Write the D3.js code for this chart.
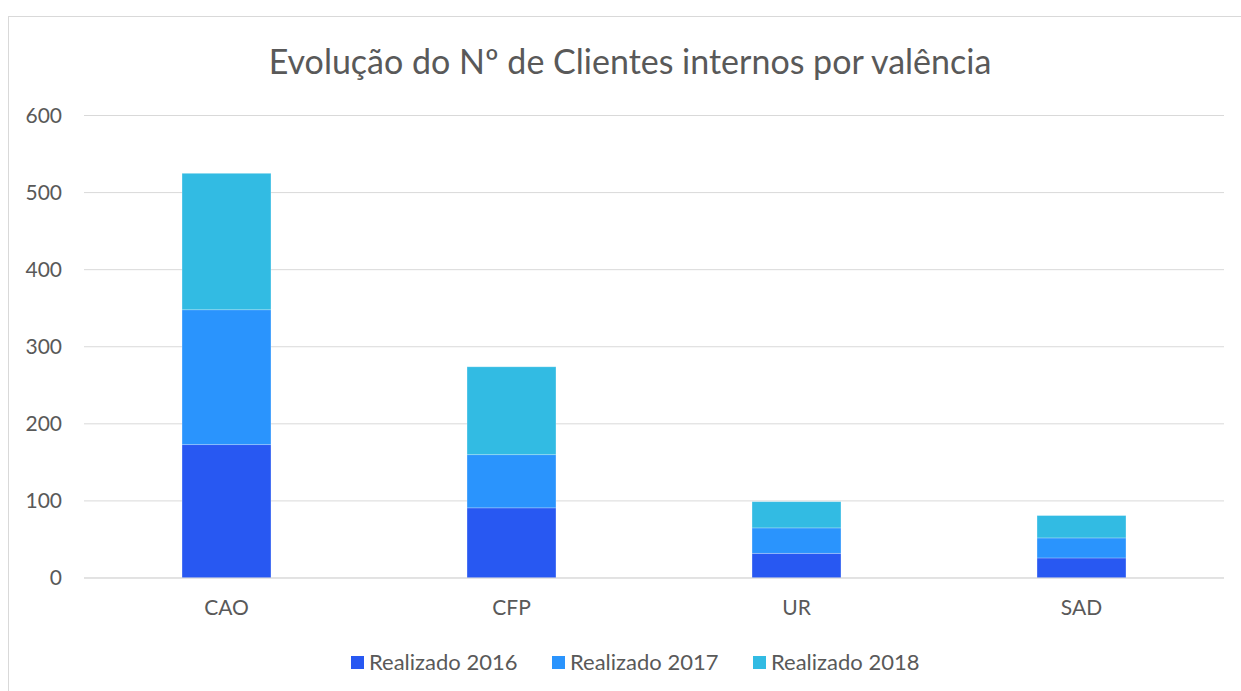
<!DOCTYPE html>
<html>
<head>
<meta charset="utf-8">
<script src="https://cdn.jsdelivr.net/npm/d3@7"></script>
<style>
  body { margin: 0; background: #fff; }
  text { font-family: Lato, "Open Sans", sans-serif; fill: #595959; }
</style>
</head>
<body>
<svg id="chart"></svg>
<script>
// data
const categories = ["CAO", "CFP", "UR", "SAD"];
const seriesNames = ["Realizado 2016", "Realizado 2017", "Realizado 2018"];
const values2016 = [173, 91, 32, 26];
const values2017 = [175, 69, 33, 26];
const values2018 = [177, 114, 34, 29];
const yTicks = [0, 100, 200, 300, 400, 500, 600];
const colors = ["#2858F2", "#2A94FD", "#32BBE3"];

const width = 1241, height = 691;
const margin = {top: 115.5, right: 17, bottom: 113, left: 84};

const svg = d3.select("#chart")
    .attr("width", width)
    .attr("height", height);

// chart border
svg.append("rect")
    .attr("x", 8.5).attr("y", 16.5)
    .attr("width", width + 10).attr("height", height + 10)
    .attr("fill", "none")
    .attr("stroke", "#d9d9d9");

const innerW = width - margin.left - margin.right;
const innerH = height - margin.top - margin.bottom;

const chart = svg.append("g")
    .attr("transform", `translate(${margin.left},${margin.top})`);

const x = d3.scaleBand()
    .domain(categories)
    .range([0, innerW])
    .padding(0);

const y = d3.scaleLinear()
    .domain([0, 600])
    .range([innerH, 0]);

// gridlines
chart.append("g")
    .selectAll("line")
    .data(yTicks)
    .join("line")
    .attr("x1", 0).attr("x2", innerW)
    .attr("y1", d => y(d)).attr("y2", d => y(d))
    .attr("stroke", "#d9d9d9")
    .attr("stroke-width", 1);

// y axis labels
const yAxis = d3.axisLeft(y).tickValues(yTicks).tickSize(0).tickPadding(22);
const yAxisG = chart.append("g").call(yAxis);
yAxisG.select(".domain").remove();
yAxisG.selectAll("text")
    .style("font-size", "21px")
    .attr("fill", "#595959");

// stacked bars
const rows = categories.map((c, i) => ({
    cat: c,
    "Realizado 2016": values2016[i],
    "Realizado 2017": values2017[i],
    "Realizado 2018": values2018[i]
}));
const stack = d3.stack().keys(seriesNames)(rows);

const barW = x.bandwidth() * 0.312;

chart.append("g")
    .selectAll("g")
    .data(stack)
    .join("g")
    .attr("fill", (d, i) => colors[i])
    .selectAll("rect")
    .data(d => d)
    .join("rect")
    .attr("x", d => x(d.data.cat) + (x.bandwidth() - barW) / 2)
    .attr("y", d => y(d[1]))
    .attr("width", barW)
    .attr("height", d => y(d[0]) - y(d[1]))
    .attr("stroke", "rgba(255,255,255,0.3)")
    .attr("stroke-width", 0.8);

// x axis line on top of bars
chart.append("line")
    .attr("x1", 0).attr("x2", innerW)
    .attr("y1", y(0)).attr("y2", y(0))
    .attr("stroke", "#d9d9d9");

// x axis labels
const xAxisG = chart.append("g")
    .attr("transform", `translate(0,${innerH})`)
    .call(d3.axisBottom(x).tickSize(0).tickPadding(22));
xAxisG.select(".domain").remove();
xAxisG.selectAll("text")
    .style("font-size", "21px")
    .attr("fill", "#595959");

// title
svg.append("text")
    .attr("x", 630)
    .attr("y", 74)
    .attr("text-anchor", "middle")
    .style("font-size", "34px")
    .text("Evolução do Nº de Clientes internos por valência");

// legend
const legendX = [351, 552, 753];
const legend = svg.append("g")
    .selectAll("g")
    .data(seriesNames)
    .join("g")
    .attr("transform", (d, i) => `translate(${legendX[i]},662)`);
legend.append("rect")
    .attr("x", 0).attr("y", -6)
    .attr("width", 13).attr("height", 13)
    .attr("fill", (d, i) => colors[i]);
legend.append("text")
    .attr("x", 18)
    .attr("y", 8)
    .style("font-size", "22px")
    .text(d => d);
</script>
</body>
</html>
